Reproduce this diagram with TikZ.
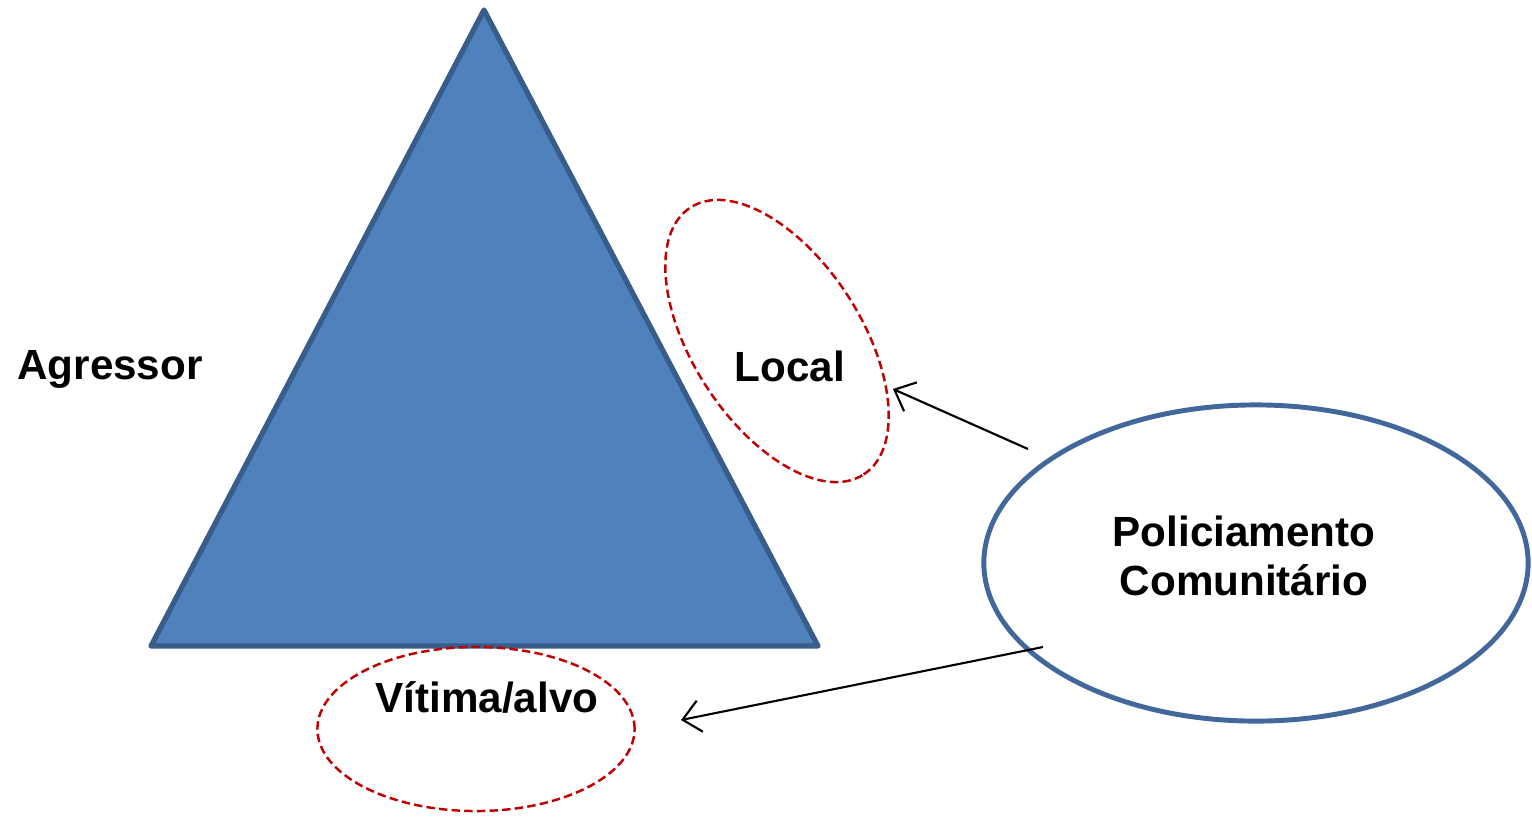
\documentclass[tikz,border=0pt]{standalone}
\usepackage{fontspec}
\setmainfont{Liberation Sans}
\usetikzlibrary{shapes.geometric, arrows.meta, positioning}
\definecolor{trifill}{HTML}{4F81BD}
\definecolor{triline}{HTML}{385D8A}
\definecolor{ringline}{HTML}{41679B}
\definecolor{dashred}{HTML}{C00000}
\begin{document}
\begin{tikzpicture}[x=0.01cm, y=-0.01cm]
\tikzset{
label text/.style={font=\fontsize{12}{13.9}\selectfont\bfseries, align=center}, % bold labels
dash ring/.style={ellipse, draw=dashred, line width=0.7pt, dash pattern=on 2.4pt off 1.2pt}, % red dashed rings
pointer/.style={-{Straight Barb[length=5pt, width=9pt]}, line width=0.6pt}, % thin open arrows
}
	\useasboundingbox (0,0) rectangle (1532,817);
	\coordinate (apex) at (484,10);
	\coordinate (bl) at (151,646);
	\coordinate (br) at (818,646);
	\filldraw[fill=trifill, draw=triline, line width=1.5pt, line join=round] (apex) -- (bl) -- (br) -- cycle;

	\node[dash ring, minimum width=3.18cm, minimum height=1.68cm, rotate=-57] (localring) at (777,341) {};
	\node[dash ring, minimum width=3.17cm, minimum height=1.64cm] (vitring) at (476,729) {};
	\node[ellipse, draw=ringline, line width=1.4pt, minimum width=5.44cm, minimum height=3.16cm] (pc) at (1256,563) {};

	\node[label text] (agressor) at (110,369) {Agressor};
	\node[label text] (local) at (790,366) {Local};
	\node[label text] (vitima) at (487,697) {Vítima/alvo};
	\node[label text] (pctext) at (1244,556) {Policiamento\\Comunitário};

	\coordinate (s1) at (1028,449);
	\coordinate (e1) at (893,389);
	\coordinate (s2) at (1043,647);
	\coordinate (e2) at (681,720);
	\draw[pointer] (s1) -- (e1);
	\draw[pointer] (s2) -- (e2);
\end{tikzpicture}
\end{document}
